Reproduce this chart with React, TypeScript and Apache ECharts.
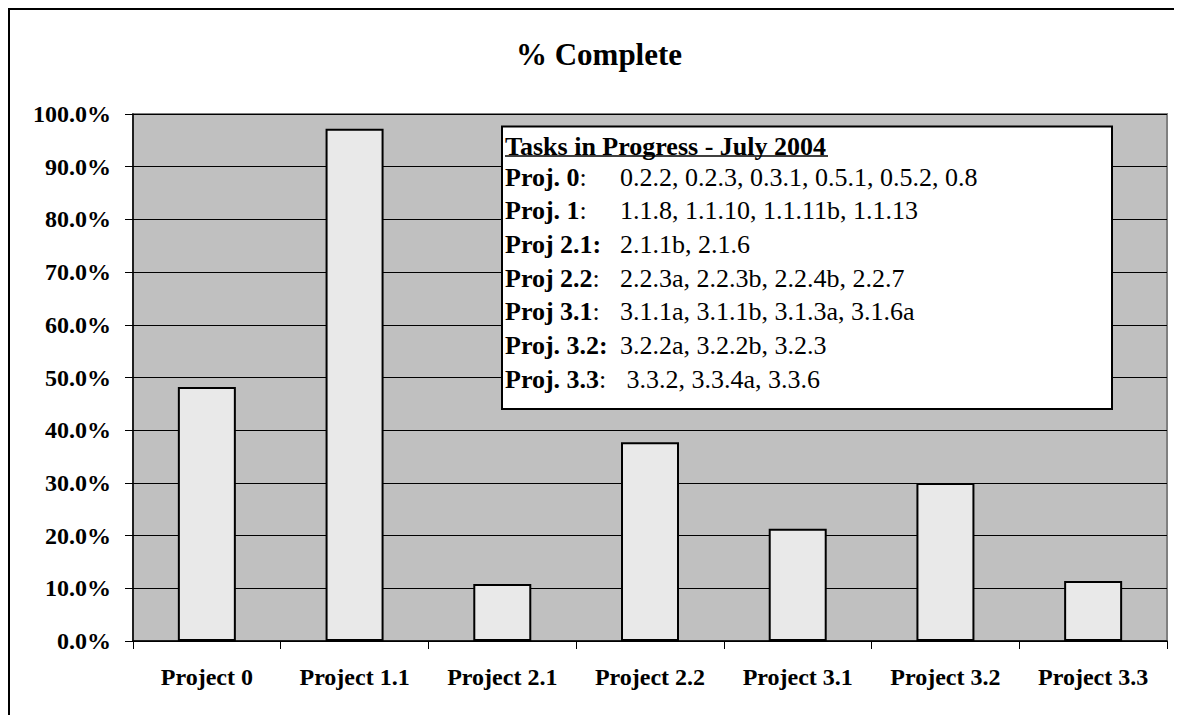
import React, { useEffect, useRef } from "react";
import * as echarts from "echarts";

const categories = ["Project 0", "Project 1.1", "Project 2.1", "Project 2.2", "Project 3.1", "Project 3.2", "Project 3.3"];
const percentComplete = [48.2, 97.2, 10.8, 37.7, 21.3, 30.0, 11.4];

const chartTitle = "% Complete";
const boxTitle = "Tasks in Progress - July 2004";
const taskProjects = ["Proj. 0", "Proj. 1", "Proj 2.1:", "Proj 2.2", "Proj 3.1", "Proj. 3.2:", "Proj. 3.3"];
const taskSuffix = [":", ":", "", ":", ":", "", ":"];
const taskLists = [
  "0.2.2, 0.2.3, 0.3.1, 0.5.1, 0.5.2, 0.8",
  "1.1.8, 1.1.10, 1.1.11b, 1.1.13",
  "2.1.1b, 2.1.6",
  "2.2.3a, 2.2.3b, 2.2.4b, 2.2.7",
  "3.1.1a, 3.1.1b, 3.1.3a, 3.1.6a",
  "3.2.2a, 3.2.2b, 3.2.3",
  " 3.3.2, 3.3.4a, 3.3.6",
];

const FONT = "Liberation Serif";

export default function App() {
  const ref = useRef<HTMLDivElement>(null);
  useEffect(() => {
    if (!ref.current) return;
    document.documentElement.style.overflow = "hidden";
    document.body.style.overflow = "hidden";
    const chart = echarts.init(ref.current, undefined, { renderer: "svg" });

    const boxX = 494;
    const boxY = 118.5;
    const labelX = 497;
    const valueX = 612;
    const firstLineY = 169;
    const lineGap = 33.7;

    const graphic: any[] = [
      {
        type: "polyline",
        z: 0,
        silent: true,
        shape: { points: [[1, 800], [1, 1], [1300, 1]] },
        style: { fill: "none", stroke: "#000", lineWidth: 2 },
      },
      {
        type: "rect",
        z: 100,
        shape: { x: boxX, y: boxY, width: 610, height: 282.5 },
        style: { fill: "#fff", stroke: "#000", lineWidth: 2 },
      },
      {
        type: "text",
        z: 101,
        style: {
          x: labelX,
          y: 138,
          text: boxTitle,
          fontFamily: FONT,
          fontSize: 26,
          fontWeight: "bold",
          fill: "#000",
          verticalAlign: "middle",
        },
      },
      {
        type: "line",
        z: 101,
        shape: { x1: labelX, y1: 148, x2: labelX + 323, y2: 148 },
        style: { stroke: "#000", lineWidth: 1.5 },
      },
    ];

    taskProjects.forEach((p, i) => {
      const y = firstLineY + i * lineGap;
      graphic.push({
        type: "text",
        z: 101,
        style: {
          x: labelX,
          y,
          text: `{b|${p}}{r|${taskSuffix[i]}}`,
          fontFamily: FONT,
          fontSize: 26,
          verticalAlign: "middle",
          rich: {
            b: { fontFamily: FONT, fontSize: 26, fontWeight: "bold", fill: "#000", color: "#000" },
            r: { fontFamily: FONT, fontSize: 26, fontWeight: "normal", fill: "#000", color: "#000" },
          },
        },
      });
      graphic.push({
        type: "text",
        z: 101,
        style: {
          x: valueX,
          y,
          text: taskLists[i],
          fontFamily: FONT,
          fontSize: 26,
          fontWeight: "normal",
          fill: "#000",
          verticalAlign: "middle",
        },
      });
    });

    chart.setOption({
      animation: false,
      backgroundColor: "#fff",
      title: {
        text: chartTitle,
        left: "center",
        top: 26,
        textStyle: { fontFamily: FONT, fontSize: 31, fontWeight: "bold", color: "#000" },
      },
      grid: {
        left: 125,
        top: 106,
        width: 1034,
        height: 527,
        show: true,
        backgroundColor: "#C0C0C0",
        borderColor: "#808080",
        borderWidth: 2,
      },
      xAxis: {
        type: "category",
        data: categories,
        axisLine: { show: true, lineStyle: { color: "#000", width: 1.5 } },
        axisTick: { show: true, length: 8, lineStyle: { color: "#000", width: 1 } },
        axisLabel: {
          interval: 0,
          margin: 24,
          fontFamily: FONT,
          fontSize: 24,
          fontWeight: "bold",
          color: "#000",
        },
        splitLine: { show: false },
      },
      yAxis: {
        type: "value",
        min: 0,
        max: 100,
        interval: 10,
        axisLine: { show: true, lineStyle: { color: "#000", width: 1.5 } },
        axisTick: { show: true, length: 8, lineStyle: { color: "#000", width: 1 } },
        axisLabel: {
          margin: 22,
          formatter: (v: number) => v.toFixed(1) + "%",
          fontFamily: FONT,
          fontSize: 24,
          fontWeight: "bold",
          color: "#000",
        },
        splitLine: { show: true, lineStyle: { color: "#000", width: 1 } },
      },
      series: [
        {
          type: "bar",
          data: percentComplete,
          barWidth: 58,
          itemStyle: { color: "#E9E9E9", borderColor: "#000", borderWidth: 2 },
        },
      ],
      graphic,
    });
    return () => chart.dispose();
  }, []);
  return <div ref={ref} style={{ width: 1182, height: 715 }} />;
}
